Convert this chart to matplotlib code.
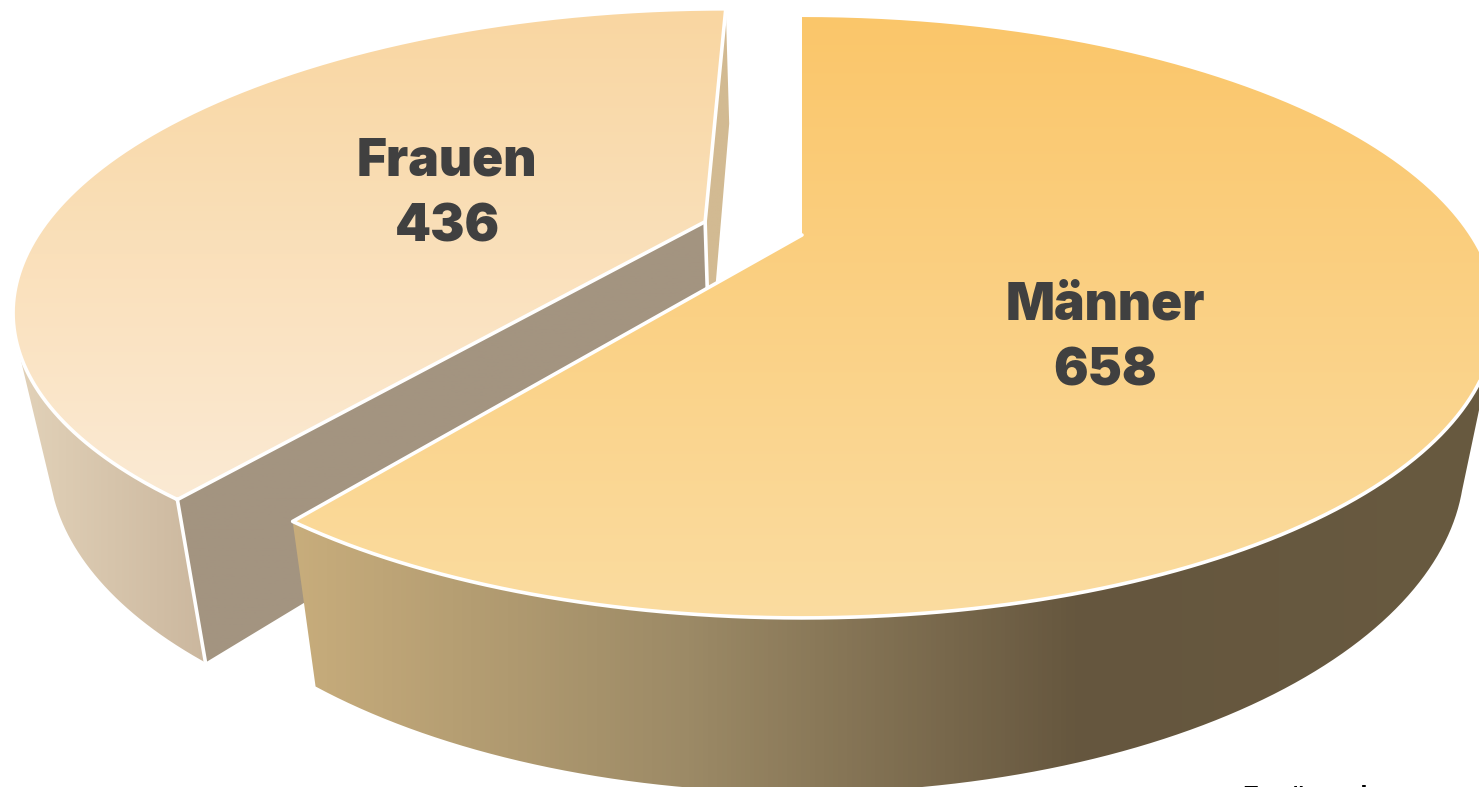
import matplotlib
matplotlib.use('Agg')
import matplotlib.pyplot as plt
from matplotlib.path import Path
from matplotlib.patches import PathPatch
from matplotlib.colors import LinearSegmentedColormap
import numpy as np

labels = ['Männer', 'Frauen']
values = [658, 436]
label_x = [1105, 447]
label_y = [319, 175]
value_y = [386, 241]
footer = 'Zugänge insg.'

# perspective of the pie, fitted by eye on the picture
cx, cy = 802, 235
a, b, k = 667, 277.8, 0.2745
explode = 0.155


def project(u, v):
    w = 1 + k * v
    return cx + a * u / w, cy - b * v / w


def extrude(x, y):
    return cx + 0.955 * (x - cx), 1.098 * y + 114


def sector(start, stop, off=0.0):
    # angles clockwise from 12 o'clock, in degrees
    mid = np.radians((start + stop) / 2)
    u0, v0 = off * np.sin(mid), off * np.cos(mid)
    t = np.radians(np.linspace(start, stop, 600))
    rim = project(u0 + np.sin(t), v0 + np.cos(t))
    apex = project(u0, v0)
    return np.array(apex), np.array(rim[0]), np.array(rim[1])


def tangent_index(rx, ry, bx, by):
    # rim point where the extrusion runs along the rim, the wall's silhouette
    cross = np.gradient(rx) * (by - ry) - np.gradient(ry) * (bx - rx)
    flips = np.where(np.sign(cross[1:]) != np.sign(cross[:-1]))[0]
    return flips


def fill(ax, xs, ys, colors, vertical=True, extent=None, z=1):
    pts = np.column_stack([xs, ys])
    cmap = LinearSegmentedColormap.from_list('g', colors)
    grad = np.linspace(0, 1, 256)
    grad = grad[:, None] if vertical else grad[None, :]
    if extent is None:
        extent = (pts[:, 0].min(), pts[:, 0].max(), pts[:, 1].max(), pts[:, 1].min())
    im = ax.imshow(grad, cmap=cmap, extent=extent, aspect='auto', zorder=z)
    patch = PathPatch(Path(pts), transform=ax.transData, fc='none', ec='none')
    ax.add_patch(patch)
    im.set_clip_path(patch)


def stroke(ax, xs, ys, z, lw=2.6):
    ax.plot(xs, ys, color='white', lw=lw, zorder=z, solid_capstyle='round', solid_joinstyle='round')


fig = plt.figure(figsize=(14.79, 7.87), dpi=100)
ax = fig.add_axes([0, 0, 1, 1])

shares = np.array(values) / sum(values) * 360
m_end = shares[0]

# Frauen
ap, rx, ry = sector(m_end, 360, explode)
bx, by = extrude(rx, ry)
apb = extrude(*ap)
t = tangent_index(rx, ry, bx, by)[0]
# outer wall, from the cut edge round to the silhouette
fill(ax, np.r_[rx[:t], bx[:t][::-1]], np.r_[ry[:t], by[:t][::-1]], ['#e2d2b9', '#cbb79e'], vertical=False, z=1)
# back sliver
fill(ax, [ap[0], rx[-1], bx[-1], apb[0]], [ap[1], ry[-1], by[-1], apb[1]], ['#d2ba92', '#d2ba92'], z=2)
# cut wall
fill(ax, [ap[0], rx[0], bx[0], apb[0]], [ap[1], ry[0], by[0], apb[1]], ['#a39480', '#a39480'], z=3)
stroke(ax, [rx[0], bx[0]], [ry[0], by[0]], 4)
stroke(ax, [ap[0], apb[0]], [ap[1], apb[1]], 4)
fill(ax, np.r_[ap[0], rx], np.r_[ap[1], ry], ['#f9d6a1', '#fbead4'], z=5)
stroke(ax, np.r_[rx, ap[0], rx[0]], np.r_[ry, ap[1], ry[0]], 6)

# Maenner
ap, rx, ry = sector(0, m_end)
bx, by = extrude(rx, ry)
t = tangent_index(rx, ry, bx, by)[0]
fill(ax, np.r_[rx[t:], bx[t:][::-1]], np.r_[ry[t:], by[t:][::-1]],
     ['#c8ad7c', '#9c8a66', '#65563e', '#685a40'], vertical=False,
     extent=(290, 1479, 787, 0), z=7)
fill(ax, np.r_[ap[0], rx], np.r_[ap[1], ry], ['#fbc66a', '#fadca0'], z=8)
stroke(ax, np.r_[rx[t:], ap[0]], np.r_[ry[t:], ap[1]], 9)

for lab, val, x, y1, y2 in zip(labels, values, label_x, label_y, value_y):
    ax.text(x, y1, lab, ha='center', va='baseline', fontsize=37, family='Inter',
            fontweight='black', color='#404040', zorder=10)
    ax.text(x, y2, str(val), ha='center', va='baseline', fontsize=37, family='Inter',
            fontweight='black', color='#404040', zorder=10)

ax.text(1243, 804, footer, ha='left', va='baseline', fontsize=19, fontweight='bold', family='Liberation Sans',
        color='black', zorder=10)

ax.set_xlim(0, 1479)
ax.set_ylim(787, 0)
ax.axis('off')
fig.savefig('out.png', dpi=100, facecolor='white')
